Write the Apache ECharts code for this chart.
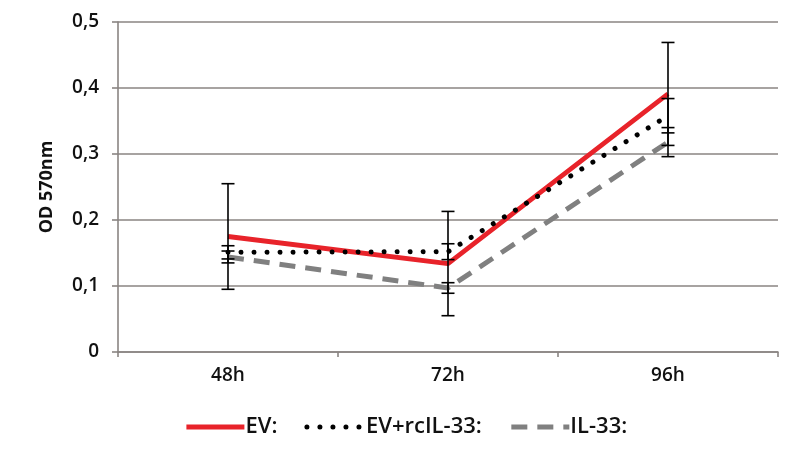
<!DOCTYPE html>
<html>
<head>
<meta charset="utf-8">
<script src="https://cdn.jsdelivr.net/npm/echarts@6/dist/echarts.min.js"></script>
<style>
  html, body { margin: 0; padding: 0; background: #ffffff; }
  #chart { width: 787px; height: 453px; }
</style>
</head>
<body>
<div id="chart"></div>
<script>
// Time points and measured optical density (mean and error) per condition
const categories = ['48h', '72h', '96h'];
const seriesNames = ['EV:', 'EV+rcIL-33:', 'IL-33:'];
const evValues = [0.175, 0.134, 0.391];
const evErrors = [0.080, 0.079, 0.078];
const evRcValues = [0.151, 0.152, 0.358];
const evRcErrors = [0.010, 0.012, 0.026];
const il33Values = [0.144, 0.097, 0.318];
const il33Errors = [0.009, 0.008, 0.022];
const yTicks = [0, 0.1, 0.2, 0.3, 0.4, 0.5];

const FONT = '"Open Sans", sans-serif';
const TEXT = '#111111';
const AXIS = '#8a8582';

// Build [categoryIndex, low, high] rows for the error-bar layer
function errorRows(values, errors) {
  return values.map((v, i) => [i, v - errors[i], v + errors[i]]);
}
const errorData = [].concat(
  errorRows(evValues, evErrors),
  errorRows(evRcValues, evRcErrors),
  errorRows(il33Values, il33Errors)
);

function renderErrorBar(params, api) {
  const x = api.value(0);
  const lo = api.coord([x, api.value(1)]);
  const hi = api.coord([x, api.value(2)]);
  const half = 6.5;
  const style = { stroke: '#000000', lineWidth: 1.6 };
  return {
    type: 'group',
    children: [
      { type: 'line', shape: { x1: hi[0], y1: hi[1], x2: lo[0], y2: lo[1] }, style },
      { type: 'line', shape: { x1: hi[0] - half, y1: hi[1], x2: hi[0] + half, y2: hi[1] }, style },
      { type: 'line', shape: { x1: lo[0] - half, y1: lo[1], x2: lo[0] + half, y2: lo[1] }, style }
    ]
  };
}

const chart = echarts.init(document.getElementById('chart'), null, { renderer: 'canvas' });
chart.setOption({
  animation: false,
  backgroundColor: '#ffffff',
  grid: { left: 118, right: 9, top: 22, bottom: 101, containLabel: false },
  legend: {
    data: seriesNames,
    top: 411,
    left: 179,
    itemWidth: 58,
    itemHeight: 16,
    itemGap: 27,
    itemStyle: { opacity: 0 },
    lineStyle: { width: 'inherit', type: 'inherit', cap: 'inherit' },
    textStyle: { fontFamily: FONT, fontSize: 22, fontWeight: 600, color: TEXT, padding: [0, 0, 0, -4] }
  },
  xAxis: {
    type: 'category',
    data: categories,
    boundaryGap: true,
    axisLine: { lineStyle: { color: AXIS, width: 1.6 } },
    axisTick: { show: true, length: 5, lineStyle: { color: AXIS, width: 1.6 } },
    axisLabel: { fontFamily: FONT, fontSize: 19, fontWeight: 600, color: TEXT, margin: 14 }
  },
  yAxis: {
    type: 'value',
    min: 0,
    max: 0.5,
    interval: 0.1,
    name: 'OD 570nm',
    nameLocation: 'middle',
    nameGap: 62,
    nameTextStyle: { fontFamily: FONT, fontSize: 18, fontWeight: 'bold', color: TEXT },
    axisLine: { show: true, lineStyle: { color: AXIS, width: 1.6 } },
    axisTick: { show: true, length: 6, lineStyle: { color: AXIS, width: 1.6 } },
    axisLabel: {
      fontFamily: FONT, fontSize: 19, fontWeight: 600, color: TEXT, margin: 19,
      formatter: v => {
        const t = yTicks.find(k => Math.abs(k - v) < 1e-9);
        return t === 0 ? '0' : String(+v.toFixed(1)).replace('.', ',');
      }
    },
    splitLine: { show: true, lineStyle: { color: AXIS, width: 1.6 } }
  },
  series: [
    {
      name: seriesNames[0], type: 'line', data: evValues, symbol: 'none', z: 4,
      lineStyle: { color: '#e8232a', width: 4.8 },
      itemStyle: { color: '#e8232a' }
    },
    {
      name: seriesNames[1], type: 'line', data: evRcValues, symbol: 'none', z: 5,
      lineStyle: { color: '#000000', width: 5, type: [0.01, 13], cap: 'round' },
      itemStyle: { color: '#000000' }
    },
    {
      name: seriesNames[2], type: 'line', data: il33Values, symbol: 'none', z: 3,
      lineStyle: { color: '#808080', width: 5, type: [16, 10], cap: 'butt' },
      itemStyle: { color: '#808080' }
    },
    {
      name: 'error', type: 'custom', data: errorData, z: 10,
      renderItem: renderErrorBar,
      encode: { x: 0, y: [1, 2] },
      silent: true
    }
  ]
});
</script>
</body>
</html>
